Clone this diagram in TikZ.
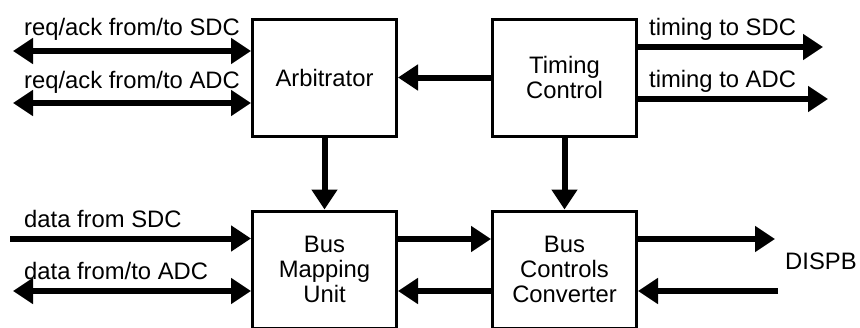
\documentclass[tikz,border=0pt]{standalone}
\usepackage{fontspec}
\setmainfont{Liberation Sans}
\usetikzlibrary{arrows.meta}

\begin{document}
\begin{tikzpicture}[
  x=1pt, y=-1pt,
  every node/.style={font=\fontsize{23.8}{25}\selectfont},
  blockbox/.style={rectangle, draw, line width=3pt, minimum width=144pt, minimum height=117pt, align=center, inner sep=0pt},
  bus/.style={line width=6pt, -{Triangle[length=20pt, width=25pt]}},
  dbus/.style={line width=6pt, {Triangle[length=20pt, width=25pt]}-{Triangle[length=20pt, width=25pt]}},
  lbl/.style={anchor=base west, inner sep=0pt},
]
\clip (0,0) rectangle (860,327);

% blocks
\node[blockbox] (arb) at (324.5, 77.5) {Arbitrator};
\node[blockbox] (tim) at (564.5, 77.5) {Timing\\Control};
\node[blockbox] (bmu) at (324.5, 269.5) {Bus\\Mapping\\Unit};
\node[blockbox] (bcc) at (564.5, 269.5) {Bus\\Controls\\Converter};

% free ends
\coordinate (reqS) at (13, 51);
\coordinate (reqA) at (13, 103);
\coordinate (timS) at (823, 47);
\coordinate (timA) at (828, 99);
\coordinate (datS) at (10, 238.5);
\coordinate (datA) at (13, 291);
\coordinate (dspO) at (775, 239);
\coordinate (dspI) at (778, 291);

% labels
\node[lbl] (reqSl) at (24, 35) {req/ack from/to SDC};
\node[lbl] (reqAl) at (24, 88) {req/ack from/to ADC};
\node[lbl] (timSl) at (649, 35) {timing to SDC};
\node[lbl] (timAl) at (649, 87) {timing to ADC};
\node[lbl] (datSl) at (24, 227) {data from SDC};
\node[lbl] (datAl) at (24, 279) {data from/to ADC};
\node[lbl] (dspl) at (785, 269) {DISPB};

% connectors
\draw[dbus] (reqS) -- (reqS -| arb.west);
\draw[dbus] (reqA) -- (reqA -| arb.west);
\draw[bus] (tim.west) -- (arb.east);
\draw[bus] (timS -| tim.east) -- (timS);
\draw[bus] (timA -| tim.east) -- (timA);
\draw[bus] (arb.south) -- (bmu.north);
\draw[bus] (tim.south) -- (bcc.north);
\draw[bus] (datS) -- (datS -| bmu.west);
\draw[dbus] (datA) -- (datA -| bmu.west);
\draw[bus] (dspO -| bmu.east) -- (dspO -| bcc.west);
\draw[bus] (dspI -| bcc.west) -- (dspI -| bmu.east);
\draw[bus] (dspO -| bcc.east) -- (dspO);
\draw[bus] (dspI) -- (dspI -| bcc.east);
\end{tikzpicture}
\end{document}
